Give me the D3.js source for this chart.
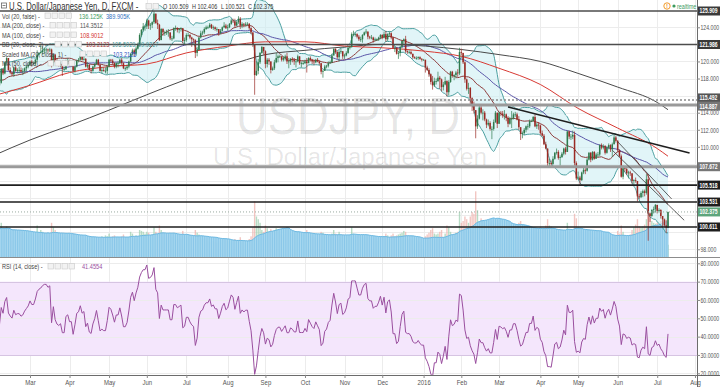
<!DOCTYPE html>
<html><head><meta charset="utf-8">
<script src="https://cdn.jsdelivr.net/npm/d3@7/dist/d3.min.js"></script>
<style>body{margin:0;background:#fff}svg{display:block;font-family:"Liberation Sans",Arial,sans-serif}</style>
</head><body><svg id="c" width="720" height="387"></svg>
<script>
// ---------------- DATA ----------------
const firstDate = "2015-02-02";
// closes before the visible window (Nov 17 2014 – Jan 30 2015), used only for indicator warm-up
const warmupCloses = [116.6,117.2,118.3,118.2,117.7,118.4,117.9,117.6,117.7,118.6,
118.4,119.2,119.7,119.8,121.4,121.0,119.8,119.0,118.6,118.8,117.6,116.8,118.6,118.8,119.5,120.0,120.7,120.4,120.3,120.4,120.4,119.6,119.8,
120.5,119.5,118.7,119.2,119.8,118.5,118.6,118.3,117.3,116.2,117.6,117.5,118.8,117.9,118.5,117.7,118.3,117.9,117.5,118.2,117.5];
const closes = [
117.3,117.6,117.2,117.5,119.1,118.6,119.9,120.4,119.0,118.7,118.5,119.3,118.9,119.0,119.0,118.8,118.9,119.2,119.4,119.6,
120.0,119.8,119.8,120.2,120.8,121.0,121.1,121.3,121.4,121.4,121.3,121.4,119.8,120.8,120.0,119.7,119.6,119.7,119.1,119.1,120.0,120.1,
119.7,119.7,118.9,119.4,120.1,120.2,120.6,120.2,120.3,119.4,119.6,119.0,118.9,119.4,119.7,120.2,119.6,118.9,119.0,118.9,118.9,119.4,
120.2,120.1,119.8,119.4,119.8,119.8,120.2,119.8,119.2,119.2,119.4,120.0,120.9,121.3,120.9,121.5,122.0,123.1,123.7,124.1,124.1,
124.8,124.2,124.3,124.6,125.6,124.5,124.3,122.5,123.8,123.4,123.4,123.4,123.4,122.7,122.7,123.9,123.9,123.7,123.8,123.9,122.4,122.5,
123.1,123.1,122.8,122.6,122.5,121.0,121.4,122.8,123.3,123.4,123.8,124.0,124.0,124.3,123.9,124.0,123.8,123.8,123.3,123.6,124.0,124.2,123.9,
124.0,124.4,124.8,124.7,124.2,124.6,125.0,124.2,124.4,124.3,124.4,124.4,123.9,123.4,122.0,118.4,118.9,119.9,121.0,121.7,121.2,
119.7,120.2,120.0,119.0,119.2,119.9,120.4,120.6,120.6,120.2,120.4,120.6,120.0,120.0,120.3,120.2,120.0,120.0,120.6,119.8,119.8,119.8,
120.0,119.8,120.4,120.2,120.0,119.9,120.2,120.0,119.8,118.8,118.9,119.4,119.5,119.8,119.9,120.7,121.5,121.1,120.5,121.1,121.2,120.6,
120.7,121.0,121.6,121.7,123.2,123.2,123.2,122.9,122.6,122.6,123.1,123.4,123.5,122.9,122.8,122.8,122.5,122.6,122.6,122.8,123.1,
122.8,123.2,122.6,123.2,123.3,122.8,121.6,121.6,120.9,121.0,121.7,122.4,122.6,121.2,121.1,121.1,120.9,120.5,120.4,120.4,120.5,120.3,120.2,
120.2,119.3,119.0,118.5,117.6,117.2,117.7,117.7,118.1,117.9,117.0,117.3,117.7,116.4,117.6,118.8,118.3,118.4,118.7,118.6,121.1,
121.0,119.9,117.9,116.8,116.9,115.7,114.9,114.3,112.4,113.3,114.6,114.0,114.0,113.2,112.6,112.8,112.1,112.1,112.9,114.0,112.7,
114.0,113.9,113.7,113.8,113.4,112.7,113.3,113.3,113.8,113.8,113.2,112.3,111.5,111.6,112.0,112.4,112.4,113.0,113.0,113.5,112.4,112.6,112.5,
111.6,111.3,110.3,109.8,108.1,108.1,108.0,108.6,109.3,109.4,108.7,108.8,109.2,109.8,109.4,111.8,111.2,111.2,111.4,108.1,106.3,
106.4,106.1,107.0,107.3,107.2,108.5,109.3,108.5,109.4,108.6,109.1,109.1,110.2,109.9,110.1,109.3,109.9,110.2,109.7,110.3,111.1,110.7,
109.6,108.9,106.5,107.5,107.4,106.9,107.0,106.9,106.0,106.1,106.0,104.2,104.1,104.6,104.8,104.6,106.2,102.2,101.9,102.6,102.7,103.2,
102.5,102.6,101.9,101.5,100.8,100.509,102.375];
const highs = [
117.7,117.9,117.9,117.6,119.2,119.2,120.0,120.5,120.4,119.3,118.8,119.4,119.5,119.2,119.4,119.3,119.2,119.3,119.6,119.8,
120.1,120.2,120.0,120.3,121.3,121.1,122.0,121.8,121.6,121.6,121.5,121.6,121.5,120.9,120.9,120.3,119.9,119.9,119.8,119.4,120.2,120.4,
120.2,120.0,119.9,119.5,120.2,120.4,120.7,120.6,120.8,120.4,119.9,119.7,119.2,119.5,119.8,120.3,120.3,119.7,119.3,119.3,119.3,119.5,
120.3,120.3,120.3,119.9,119.9,120.0,120.3,120.4,119.9,119.4,119.6,120.1,121.0,121.5,121.5,121.8,122.2,123.3,123.8,124.5,124.3,
125.0,124.9,124.5,124.7,125.9,125.6,124.9,124.4,123.9,123.9,123.6,123.7,123.8,123.4,123.0,124.0,124.2,124.0,123.9,124.0,123.3,122.8,
123.3,123.4,123.2,122.9,122.7,122.6,121.7,122.9,123.6,123.6,124.0,124.2,124.2,124.5,124.4,124.2,124.1,124.0,123.8,123.8,124.1,124.6,124.4,
124.3,124.5,125.0,125.0,125.0,124.8,125.3,125.2,124.6,124.5,124.6,124.6,124.5,124.0,123.4,122.0,120.0,120.3,121.1,121.8,121.7,
121.3,120.4,120.4,120.0,119.4,120.2,121.0,120.8,120.8,120.6,120.6,120.8,121.0,120.4,120.4,120.5,120.4,120.2,120.8,120.5,120.0,120.1,
120.2,120.4,120.5,120.6,120.3,120.2,120.3,120.4,120.1,119.8,119.0,119.6,119.6,120.0,120.1,120.9,121.5,121.4,121.2,121.3,121.5,121.1,
120.9,121.2,121.8,121.9,123.4,123.6,123.4,123.3,123.1,122.9,123.2,123.5,123.8,123.5,123.0,123.1,122.9,122.8,122.7,122.9,123.2,
123.2,123.5,123.6,123.3,123.5,123.4,122.9,121.8,121.7,121.2,121.8,122.4,122.7,123.0,121.3,121.3,121.3,120.9,120.6,120.6,120.6,120.6,120.4,
120.3,120.2,119.5,119.2,118.6,118.3,118.1,118.0,118.8,118.3,118.0,117.6,118.2,117.8,117.8,118.9,118.9,118.5,118.9,119.1,121.6,
121.5,121.0,120.0,118.0,117.5,117.0,115.8,115.3,114.3,113.7,114.9,115.0,114.4,114.2,113.3,113.2,113.0,112.4,113.2,114.2,114.0,
114.1,114.2,114.2,114.3,113.9,113.6,113.5,114.2,114.0,114.1,114.0,113.6,112.2,111.8,112.2,112.5,112.7,113.2,113.2,113.6,113.8,112.8,112.9,
112.6,111.9,111.5,110.6,109.8,108.6,108.4,108.9,109.4,109.8,109.6,109.0,109.4,109.9,110.0,111.9,111.9,111.5,111.9,111.8,108.3,
107.1,106.6,107.1,107.6,107.5,108.7,109.4,109.4,109.5,109.5,109.3,109.4,110.3,110.4,110.3,110.2,110.1,110.4,110.3,110.5,111.4,111.3,
110.8,109.7,109.1,107.8,107.7,107.6,107.2,107.2,106.9,106.2,106.4,106.0,104.5,104.8,105.0,105.0,106.8,106.8,102.3,102.7,103.0,103.3,
103.0,102.8,102.7,101.9,101.6,101.4,102.406];
const lows = [
116.9,117.0,117.0,116.9,117.4,118.4,118.5,119.6,118.9,118.5,118.3,118.2,118.8,118.6,118.6,118.7,118.4,118.6,118.8,119.2,
119.5,119.4,119.6,119.5,119.9,120.6,120.9,120.8,120.9,121.0,121.0,121.1,119.3,119.5,119.9,119.6,119.4,119.3,118.3,118.9,119.0,119.6,
119.4,119.4,118.7,118.7,119.3,119.9,120.1,120.1,120.1,119.3,119.2,118.9,118.6,118.8,119.2,119.6,119.5,118.8,118.6,118.8,118.6,118.5,
119.3,119.9,119.6,119.2,119.2,119.3,119.7,119.6,119.1,118.9,119.0,119.2,119.9,120.7,120.6,120.7,121.4,121.8,122.9,123.5,123.6,
123.8,123.8,123.7,123.9,124.4,124.4,123.8,122.4,122.5,123.0,123.0,123.1,122.9,122.5,122.4,122.6,123.6,123.4,123.3,123.5,122.1,122.0,
122.3,122.9,122.6,121.7,122.2,120.4,120.6,121.3,122.7,123.1,123.2,123.7,123.8,123.9,123.8,123.7,123.6,123.5,123.0,123.2,123.5,123.9,123.8,
123.6,123.9,124.3,124.5,124.0,124.1,124.4,123.8,123.9,124.0,124.1,124.2,123.7,123.2,121.7,116.1,118.3,118.5,119.7,120.9,120.8,
119.2,119.3,119.6,118.6,118.9,119.0,119.8,119.9,120.4,120.0,120.0,120.1,119.7,119.2,119.6,119.9,119.6,119.3,119.9,119.6,119.3,119.6,
119.7,118.7,119.8,120.0,119.7,119.6,119.8,119.9,119.6,118.5,118.1,118.9,119.2,119.3,119.7,119.8,120.7,120.9,120.3,120.0,120.9,120.3,
120.3,120.6,120.9,121.4,121.6,123.0,122.9,122.7,122.4,122.3,122.2,123.0,123.2,122.6,122.6,122.6,122.2,122.4,122.4,122.4,122.6,
122.6,122.7,122.3,122.4,122.9,122.6,121.5,121.1,120.8,120.3,120.6,121.6,121.9,121.0,120.9,120.9,120.8,120.3,120.3,120.2,120.2,120.2,120.0,
120.1,118.7,118.9,118.2,117.3,116.7,117.0,117.3,117.6,116.8,116.5,116.6,117.2,115.9,116.0,117.5,118.1,117.8,118.0,118.2,118.4,
120.7,119.7,117.5,116.6,116.2,115.0,114.2,113.9,111.0,112.1,113.2,113.8,113.1,113.0,112.2,112.4,111.9,110.9,111.9,112.8,112.2,
112.7,113.6,113.4,113.2,113.0,112.3,112.6,112.2,113.2,113.5,113.1,112.0,110.8,111.0,111.4,111.7,112.0,112.2,112.9,113.0,112.3,112.1,112.0,
111.4,111.2,110.2,109.7,107.7,107.7,107.6,107.9,108.5,109.1,108.5,107.8,108.7,109.0,109.1,109.4,110.9,110.8,110.9,107.8,106.1,
106.1,105.5,106.0,106.8,106.8,107.1,108.4,108.2,108.4,108.5,108.6,108.8,108.9,109.7,109.7,109.1,109.2,109.7,109.4,108.8,110.3,110.5,
109.4,108.8,106.4,106.2,107.1,106.7,106.3,106.6,105.7,105.6,105.8,103.6,103.9,104.0,104.1,104.2,104.4,99.0,101.2,101.8,102.2,102.3,
102.2,102.3,101.6,100.6,100.6,99.9,100.521];
const volumes = [ // thousands
330,310,300,290,380,300,320,340,300,280,180,300,290,280,290,260,280,270,260,250,
260,240,230,250,350,240,300,280,260,250,230,240,380,330,300,230,220,230,260,220,230,240,
240,220,260,200,220,210,200,230,200,240,220,230,220,200,210,200,220,210,230,220,240,230,
260,220,230,240,210,220,200,230,250,200,210,220,280,260,220,240,230,300,290,280,260,
280,270,240,250,330,280,260,350,300,230,210,220,260,240,220,260,230,200,210,200,290,250,
240,220,200,230,210,300,270,250,230,200,210,190,180,170,200,180,170,160,180,170,190,200,190,
180,170,190,170,200,180,190,220,170,160,150,170,200,230,330,620,450,420,380,300,280,
350,320,280,310,220,300,320,280,260,250,240,260,330,300,260,250,270,260,280,270,260,250,
250,300,240,230,240,220,210,220,230,280,270,240,220,230,240,260,300,260,250,280,240,250,
240,230,240,230,330,260,220,230,230,220,240,220,230,220,210,200,210,220,180,190,230,
220,230,260,240,220,240,260,230,240,250,260,270,290,280,220,200,200,180,120,150,180,170,140,
90,230,250,270,300,320,260,250,260,280,300,220,260,350,330,280,240,250,270,280,500,
380,400,450,420,380,450,500,480,730,520,400,430,400,380,360,350,380,400,370,380,420,
380,360,340,330,320,340,350,380,340,300,320,380,400,360,300,300,290,280,230,260,300,280,290,
330,300,320,350,420,350,340,320,300,280,270,260,250,260,280,380,280,250,260,480,430,
330,320,300,260,280,300,270,260,240,230,220,220,260,230,210,220,210,220,200,190,230,240,
290,260,350,280,240,230,240,250,300,330,360,420,340,330,340,360,420,650,450,400,380,370,
380,360,400,410,420,430,136];
// moving averages (date, value)
const ma100Dates = ["2015-02-02","2015-03-02","2015-04-01","2015-05-01","2015-06-01","2015-07-01","2015-08-03","2015-09-01","2015-10-01","2015-11-02","2015-12-01","2016-01-04","2016-02-01","2016-03-01","2016-04-01","2016-05-02","2016-06-01","2016-07-01","2016-07-11"];
const ma100Values = [116.0,117.2,118.7,119.4,119.7,121.0,121.8,122.3,122.3,121.8,121.6,121.2,120.6,119.2,117.3,114.5,112.2,109.8,108.9];
const ma200Dates = ma100Dates;
const ma200Values = [109.0,110.8,112.5,114.3,116.1,117.9,119.5,120.8,121.3,121.7,122.0,121.8,121.4,120.8,120.0,118.6,117.0,115.2,114.35];
// horizontal levels and trend lines drawn on the chart
const levels = [125.909,121.986,115.492,114.887,107.672,105.518,103.531,100.611];
const levelKinds = ["dark","dark","dotted","grey","grey","black","black","black"];
const lastPrice = 102.375;
const trendStartDates = ["2016-03-08","2016-05-27","2016-06-01"];
const trendStartPrices = [114.67,109.6,110.6];
const trendEndDates = ["2016-07-27","2016-07-22","2016-07-13"];
const trendEndPrices = [109.28,101.4,103.9];
const priceTicks = [98,110,112,114,118,120,124];
const rsiTicks = [20,30,40,50,60,70,80];
const monthNames = ["2015","Feb","Mar","Apr","May","Jun","Jul","Aug","Sep","Oct","Nov","Dec"];

// ---------------- LAYOUT ----------------
const svg = d3.select("#c");
const PR = 697, MB = 257, RT = 257, RB = 375;
const dates = [];
for (let t = Date.UTC(2015,1,2); t <= Date.UTC(2016,7,5); t += 864e5) {
  const d = new Date(t); const w = d.getUTCDay(); if (w !== 0 && w !== 6) dates.push(d);
}
const iso = d => d.toISOString().slice(0,10);
const idxOf = s => dates.findIndex(d => iso(d) === s);
const N = closes.length;
const x = d3.scaleLinear().domain([idxOf("2015-03-02"), N-1]).range([30, 668]);
const y = d3.scaleLinear().domain([100.611,125.909]).range([227,11]);
const ry = d3.scaleLinear().domain([20,80]).range([373.3,263.3]);
const vy = d3.scaleLinear().domain([0,1000]).range([MB,MB-90]);

const all = warmupCloses.concat(closes), W = warmupCloses.length;
const opens = closes.map((c,i)=> all[W+i-1]);

function txt(g, xx, yy, s, o={}) {
  return g.append("text").attr("transform",`translate(${xx},${yy}) scale(${o.sx||0.76},1)`)
    .attr("font-size", o.fs||8).attr("fill", o.fill||"#333")
    .attr("text-anchor", o.anchor||"start").attr("font-weight", o.fw||null).text(s);
}

const defs = svg.append("defs");
defs.append("clipPath").attr("id","cm").append("rect").attr("x",0).attr("y",0).attr("width",PR).attr("height",MB);
defs.append("clipPath").attr("id","cr").append("rect").attr("x",0).attr("y",RT).attr("width",PR).attr("height",RB-RT);

// month ticks
const monthIdx = [];
dates.forEach((d,i)=>{ if (i>0 && d.getUTCMonth() !== dates[i-1].getUTCMonth()) monthIdx.push(i); });
const monthLabel = i => { const d = dates[i]; return d.getUTCMonth()===0 ? String(d.getUTCFullYear()) : monthNames[d.getUTCMonth()]; };

// grids
const grid = svg.append("g").attr("stroke","#ececec").attr("stroke-width",1);
monthIdx.forEach(i=>{ const xx=Math.round(x(i))+0.5; grid.append("line").attr("x1",xx).attr("x2",xx).attr("y1",0).attr("y2",RB); });
d3.range(98,126,2).forEach(p=>{ const yy=Math.round(y(p))+0.5; grid.append("line").attr("x1",0).attr("x2",PR).attr("y1",yy).attr("y2",yy); });

// RSI band
const rg = svg.append("g").attr("clip-path","url(#cr)");
rg.append("rect").attr("x",0).attr("width",PR).attr("y",ry(70)).attr("height",ry(30)-ry(70)).attr("fill","#f4e6fc");
rsiTicks.forEach(t=>{ const yy=Math.round(ry(t))+0.5; rg.append("line").attr("x1",0).attr("x2",PR).attr("y1",yy).attr("y2",yy)
  .attr("stroke", (t===70||t===30) ? "#d6c4e2" : "#ececec"); });

// main pane
const mg = svg.append("g").attr("clip-path","url(#cm)");
// watermark
mg.append("text").attr("x",236).attr("y",134).attr("font-size",51).attr("textLength",224).attr("lengthAdjust","spacingAndGlyphs")
  .attr("fill","#000").attr("fill-opacity",0.1).text("USDJPY, D");
mg.append("text").attr("x",213).attr("y",165).attr("font-size",23.5).attr("textLength",274).attr("lengthAdjust","spacingAndGlyphs")
  .attr("fill","#000").attr("fill-opacity",0.1).text("U.S. Dollar/Japanese Yen");

// volume
const idx = d3.range(N);
const volMA = idx.map(i=>d3.mean(volumes.slice(Math.max(0,i-19), i+1)));
mg.append("g").selectAll("rect").data(idx).join("rect")
  .attr("x",i=>x(i)-0.7).attr("width",1.4).attr("y",i=>vy(volumes[i])).attr("height",i=>MB-vy(volumes[i]))
  .attr("fill",i=> closes[i]>=opens[i] ? "#9fd0b2" : "#eeb3ad").attr("fill-opacity",0.75);
mg.append("path").datum(idx).attr("fill","#a9d9f0").attr("fill-opacity",0.95)
  .attr("d", d3.area().x(i=>x(i)).y0(MB).y1(i=>vy(volMA[i])));
mg.append("g").selectAll("rect").data(idx).join("rect")
  .attr("x",i=>x(i)-0.45).attr("width",0.9).attr("y",i=>vy(volMA[i])).attr("height",i=>MB-vy(volMA[i])).attr("fill","#86c5e8");
mg.append("path").datum(idx).attr("fill","none").attr("stroke","#6db9e2").attr("stroke-width",1)
  .attr("d", d3.line().x(i=>x(i)).y(i=>vy(volMA[i])));

// Bollinger bands (20, 2) and MA50
const bb = idx.map(i=>{ const k=W+i, win=all.slice(k-19,k+1), m=d3.mean(win);
  const sd=Math.sqrt(d3.mean(win.map(v=>(v-m)*(v-m)))); return {m, u:m+2*sd, l:m-2*sd}; });
const ma50 = idx.map(i=>d3.mean(all.slice(W+i-49, W+i+1)));
mg.append("path").datum(idx).attr("fill","#cdeef3").attr("fill-opacity",0.6)
  .attr("d", d3.area().x(i=>x(i)).y0(i=>y(bb[i].l)).y1(i=>y(bb[i].u)).curve(d3.curveMonotoneX));
["u","l"].forEach(k=> mg.append("path").datum(idx).attr("fill","none").attr("stroke","#4b9fa0").attr("stroke-width",1)
  .attr("d", d3.line().x(i=>x(i)).y(i=>y(bb[i][k])).curve(d3.curveMonotoneX)));
mg.append("path").datum(idx).attr("fill","none").attr("stroke","#8e3a3a").attr("stroke-width",1)
  .attr("d", d3.line().x(i=>x(i)).y(i=>y(bb[i].m)));
mg.append("path").datum(idx).attr("fill","none").attr("stroke","#5a55a8").attr("stroke-width",1)
  .attr("d", d3.line().x(i=>x(i)).y(i=>y(ma50[i])));
// MA100 / MA200
const maLine = d3.line().x(d=>x(d[0])).y(d=>y(d[1])).curve(d3.curveMonotoneX);
mg.append("path").datum(ma200Dates.map((s,k)=>[idxOf(s), ma200Values[k]])).attr("fill","none").attr("stroke","#4a4a4a").attr("stroke-width",1).attr("d",maLine);
mg.append("path").datum(ma100Dates.map((s,k)=>[idxOf(s), ma100Values[k]])).attr("fill","none").attr("stroke","#d83a34").attr("stroke-width",1).attr("d",maLine);

// candles
const cg = mg.append("g");
idx.forEach(i=>{
  const o=opens[i], c=closes[i], up=c>=o, col=up?"#2f7a4d":"#9a2a24", xx=x(i);
  cg.append("line").attr("x1",xx).attr("x2",xx).attr("y1",y(Math.max(highs[i],o,c))).attr("y2",y(Math.min(lows[i],o,c)))
    .attr("stroke",col).attr("stroke-width",0.7);
  const t=y(Math.max(o,c)), b=y(Math.min(o,c));
  cg.append("rect").attr("x",xx-0.75).attr("width",1.5).attr("y",t).attr("height",Math.max(0.8,b-t)).attr("fill",col);
});

// level lines
const levStyle = {dark:{c:"#4d4d4d",w:1.6,box:"#3a3a3a"}, dotted:{c:"#8a8a8a",w:1.6,dash:"2,2",box:"#555"},
  grey:{c:"#9a9a9a",w:3,box:"#777"}, black:{c:"#1e1e1e",w:1.6,box:"#1e1e1e"}};
levels.forEach((p,k)=>{ const s=levStyle[levelKinds[k]];
  mg.append("line").attr("x1",0).attr("x2",PR).attr("y1",y(p)).attr("y2",y(p)).attr("stroke",s.c).attr("stroke-width",s.w).attr("stroke-dasharray",s.dash||null); });
mg.append("line").attr("x1",0).attr("x2",PR).attr("y1",y(lastPrice)).attr("y2",y(lastPrice)).attr("stroke","#9aaaa0").attr("stroke-width",1).attr("stroke-dasharray","1,2");
// trend lines
trendStartDates.forEach((s,k)=>{
  mg.append("line").attr("x1",x(idxOf(s))).attr("y1",y(trendStartPrices[k])).attr("x2",x(idxOf(trendEndDates[k]))).attr("y2",y(trendEndPrices[k]))
    .attr("stroke", k===0 ? "#1e1e1e" : "#3a3a3a").attr("stroke-width", k===0 ? 1.6 : 0.8);
});

// RSI
const rsiAll = (()=>{ const n=14, out=new Array(all.length).fill(null); let g=0,l=0;
  for(let i=1;i<=n;i++){const d=all[i]-all[i-1]; if(d>0) g+=d; else l-=d;} g/=n; l/=n; out[n]=100-100/(1+g/l);
  for(let i=n+1;i<all.length;i++){const d=all[i]-all[i-1]; g=(g*(n-1)+Math.max(d,0))/n; l=(l*(n-1)+Math.max(-d,0))/n; out[i]=l===0?100:100-100/(1+g/l);}
  return out; })();
rg.append("path").datum(idx).attr("fill","none").attr("stroke","#9a4f9f").attr("stroke-width",1)
  .attr("d", d3.line().x(i=>x(i)).y(i=>ry(rsiAll[W+i])));

// pane borders
svg.append("line").attr("x1",0).attr("x2",720).attr("y1",MB+0.5).attr("y2",MB+0.5).attr("stroke","#8c8c8c");
svg.append("line").attr("x1",0).attr("x2",720).attr("y1",RB+0.5).attr("y2",RB+0.5).attr("stroke","#6c6c6c");
svg.append("line").attr("x1",PR+0.5).attr("x2",PR+0.5).attr("y1",0).attr("y2",387).attr("stroke","#6c6c6c");

// right axes
const styleAxis = g => { g.select(".domain").remove(); g.selectAll("line").attr("stroke","#888");
  g.selectAll("text").attr("fill","#555").attr("font-size",7).attr("x",3.5/0.74).attr("transform","scale(0.74,1)"); };
svg.append("g").attr("transform",`translate(${PR},0)`).call(d3.axisRight(y).tickValues(priceTicks).tickSize(3).tickFormat(d3.format(".3f"))).call(styleAxis);
svg.append("g").attr("transform",`translate(${PR},0)`).call(d3.axisRight(ry).tickValues(rsiTicks).tickSize(3).tickFormat(d3.format(".4f"))).call(styleAxis);
// level labels (115.492 / 114.887 are nudged apart as the chart does)
const lbl = (p, fill, yy) => { svg.append("rect").attr("x",PR+1).attr("y",yy-4.5).attr("width",22).attr("height",9).attr("fill",fill);
  txt(svg, PR+2.5, yy+2.4, d3.format(".3f")(p), {fill:"#fff", fs:6.6, sx:0.76, fw:"bold"}); };
levels.forEach((p,k)=>{ let yy=y(p); if (p===115.492) yy-=2; if (p===114.887) yy+=1; lbl(p, levStyle[levelKinds[k]].box, yy); });
lbl(lastPrice, "#5da57c", y(lastPrice));

// bottom axis
svg.append("g").attr("transform",`translate(0,${RB})`).call(d3.axisBottom(x).tickValues(monthIdx.filter(i=>x(i)>10)).tickSize(3).tickFormat(monthLabel))
  .call(g=>{ g.select(".domain").remove(); g.selectAll("line").attr("stroke","#888");
    g.selectAll("text").attr("fill","#555").attr("font-size",7.5).attr("y",5).attr("transform","scale(0.8,1)")
     .each(function(){ const p=this.parentNode; const tr=p.getAttribute("transform"); const m=/translate\(([-\d.]+)/.exec(tr);
        p.setAttribute("transform",`translate(${m[1]},0)`); }); });

// legend
const L = svg.append("g");
L.append("rect").attr("x",1.5).attr("y",3).attr("width",5).attr("height",5).attr("fill","none").attr("stroke","#666").attr("stroke-width",0.8);
L.append("line").attr("x1",2.5).attr("x2",5.5).attr("y1",5.5).attr("y2",5.5).attr("stroke","#666").attr("stroke-width",0.8);
txt(L, 9, 9.5, "U.S. Dollar/Japanese Yen, D, FXCM -", {fs:10.5, sx:0.74, fill:"#333"});
const icons = (x0, yy, n) => { for(let k=0;k<n;k++) L.append("rect").attr("x",x0+k*7).attr("y",yy-5.5).attr("width",5.5).attr("height",5.5)
  .attr("fill","#f2f2f2").attr("stroke","#c8c8c8").attr("stroke-width",0.6); };
icons(146,9,2);
txt(L,163,9,"O 100.509",{fs:7.4,sx:0.74}); txt(L,192,9,"H 102.406",{fs:7.4,sx:0.74}); txt(L,221,9,"L 100.521",{fs:7.4,sx:0.74}); txt(L,248,9,"C 102.375",{fs:7.4,sx:0.74});
const rows = [
  {y:18.5, t:"Vol (20, false) -", ic:45, v:[["136.125K",79,"#3c9a5e"],["389.905K",106,"#2c6fc0"]]},
  {y:28, t:"MA (200, close) -", ic:50, v:[["114.3512",80,"#555"]]},
  {y:37.5, t:"MA (100, close) -", ic:50, v:[["108.9012",80,"#d3302a"]]},
  {y:47, t:"BB (20, close, 2) -", ic:55, v:[["103.2123",86,"#9a3030"],["105.5029",112,"#3d9090"],["99.9217",138,"#3d9090"]]},
  {y:56.5, t:"Scaled MA (20, close, 1) -", ic:80, v:[["103.2125",113,"#2c55c0"]]},
  {y:66, t:"MA (50, close) -", ic:48, v:[]}
];
rows.forEach(r=>{ txt(L,2,r.y,r.t,{fs:7.6,fill:"#444",sx:0.74}); icons(r.ic,r.y,4); r.v.forEach(v=>txt(L,v[1],r.y,v[0],{fs:7.6,fill:v[2],sx:0.74})); });
txt(L,2,269,"RSI (14, close) -",{fs:7.6,fill:"#444",sx:0.74}); icons(48,269,4); txt(L,82,269,"41.4554",{fs:7.6,fill:"#9a4f9f",sx:0.74});

// realtime badge
svg.append("circle").attr("cx",667).attr("cy",6).attr("r",3.2).attr("fill","#fff").attr("stroke","#f29a2e").attr("stroke-width",1);
svg.append("text").attr("x",667).attr("y",8.3).attr("text-anchor","middle").attr("font-size",6).attr("fill","#f29a2e").attr("font-weight","bold").text("!");
svg.append("circle").attr("cx",674).attr("cy",6).attr("r",1.6).attr("fill","#3c9a5e");
txt(svg,677,8.5,"realtime",{fs:7.2,fill:"#3c9a5e",sx:0.76});
</script></body></html>
